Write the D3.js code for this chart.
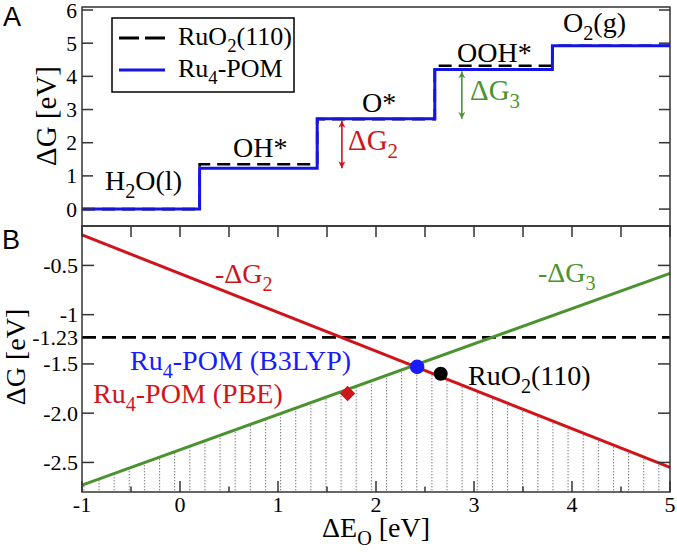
<!DOCTYPE html>
<html><head><meta charset="utf-8">
<script src="https://cdn.jsdelivr.net/npm/d3@7"></script>
<style>
html,body{margin:0;padding:0;background:#fff;}
svg{display:block;}
</style></head>
<body>
<script>
// ---------- DATA ----------
const stepX = [0, 1, 2, 3, 4, 5];
const ruo2Levels = [0, 1.35, 2.71, 4.32, 4.92];
const ru4Levels = [0, 1.23, 2.72, 4.21, 4.92];
const panelAYTicks = [0, 1, 2, 3, 4, 5, 6];

const deltaEo = [-1, 5];
const negDG2 = [-0.19, -2.55];
const negDG3 = [-2.73, -0.58];
const eqPotential = -1.23;
const panelBYTicks = [-0.5, -1, -1.23, -1.5, -2.0, -2.5];
const panelBYTickLabels = ["-0.5", "-1", "-1.23", "-1.5", "-2.0", "-2.5"];
const panelBYTickMarks = [-0.5, -1, -1.5, -2.0, -2.5];
const xTicks = [-1, 0, 1, 2, 3, 4, 5];
const xMinorTicks = [-0.5, 0.5, 1.5, 2.5, 3.5, 4.5];
const catalysts = ["Ru4-POM (B3LYP)", "RuO2(110)", "Ru4-POM (PBE)"];
const catalystX = [2.42, 2.66, 1.71];
const catalystY = [-1.53, -1.60, -1.80];

// ---------- STYLE ----------
const W = 677, H = 554;
const SERIF = "\"Liberation Serif\", \"Times New Roman\", serif";
const SANS = "\"Liberation Sans\", Arial, sans-serif";
const BLUE = "#1414e6", RED = "#d0141c", GREEN = "#4b9230", FRAME = "#333";

const svg = d3.select("body").append("svg").attr("width", W).attr("height", H)
  .style("font-family", SERIF);
const defs = svg.append("defs");

function rich(g, x, y, parts, opt) {
  const t = g.append("text").attr("x", x).attr("y", y)
    .attr("font-size", opt.size).attr("fill", opt.color || "#000")
    .attr("text-anchor", opt.anchor || "start")
    .style("font-family", SERIF);
  if (opt.rotate) t.attr("transform", `rotate(${opt.rotate},${x},${y})`);
  let shifted = 0;
  parts.forEach(p => {
    const isSub = Array.isArray(p);
    const s = isSub ? p[0] : p;
    const ts = t.append("tspan").text(s);
    const want = isSub ? opt.size * 0.28 : 0;
    if (want !== shifted) { ts.attr("dy", want - shifted); shifted = want; }
    if (isSub) ts.attr("font-size", opt.size * 0.72);
  });
  return t;
}
function plain(g, x, y, s, size, anchor) {
  return g.append("text").attr("x", x).attr("y", y).attr("text-anchor", anchor)
    .attr("font-size", size).style("font-family", SERIF).text(s);
}

// ---------- PANEL A ----------
const xA = d3.scaleLinear().domain([0, 5]).range([82, 670]);
const yA = d3.scaleLinear().domain([-0.51, 6.09]).range([226, 7]);
const gA = svg.append("g");

const stepLine = levels => d3.line().x((d, i) => xA(stepX[i])).y(d => yA(d)).curve(d3.curveStepAfter)(levels.concat([levels[levels.length - 1]]));

gA.append("path").attr("d", stepLine(ruo2Levels)).attr("fill", "none")
  .attr("stroke", "#000").attr("stroke-width", 2.6).attr("stroke-dasharray", "13,7");
gA.append("path").attr("d", stepLine(ru4Levels)).attr("fill", "none")
  .attr("stroke", BLUE).attr("stroke-width", 3);

// frame A
gA.append("rect").attr("x", 82).attr("y", 7).attr("width", 588).attr("height", 219)
  .attr("fill", "none").attr("stroke", FRAME).attr("stroke-width", 1.5);
panelAYTicks.forEach(v => {
  gA.append("line").attr("x1", 82).attr("x2", 93).attr("y1", yA(v)).attr("y2", yA(v)).attr("stroke", FRAME).attr("stroke-width", 1.5);
  gA.append("line").attr("x1", 670).attr("x2", 659).attr("y1", yA(v)).attr("y2", yA(v)).attr("stroke", FRAME).attr("stroke-width", 1.5);
  plain(gA, 77, yA(v) + 7.5, v, 21.5, "end");
});

// arrows
function arrowMarker(id, color) {
  defs.append("marker").attr("id", id).attr("viewBox", "0 0 10 10").attr("refX", 10).attr("refY", 5)
    .attr("markerWidth", 7).attr("markerHeight", 7).attr("markerUnits", "userSpaceOnUse")
    .attr("orient", "auto-start-reverse")
    .append("path").attr("d", "M0,0 L10,5 L0,10 L3,5 Z").attr("fill", color);
}
arrowMarker("arRed", RED); arrowMarker("arGreen", GREEN);
gA.append("line").attr("x1", xA(2.21)).attr("x2", xA(2.21)).attr("y1", yA(ru4Levels[2]) + 2).attr("y2", yA(ru4Levels[1]))
  .attr("stroke", RED).attr("stroke-width", 1.6).attr("marker-start", "url(#arRed)").attr("marker-end", "url(#arRed)");
gA.append("line").attr("x1", xA(3.23)).attr("x2", xA(3.23)).attr("y1", yA(ru4Levels[3]) + 2).attr("y2", yA(ru4Levels[2]))
  .attr("stroke", GREEN).attr("stroke-width", 1.6).attr("marker-start", "url(#arGreen)").attr("marker-end", "url(#arGreen)");

rich(gA, 348, 150, ["ΔG", ["2"]], {size: 29, color: RED});
rich(gA, 470, 100, ["ΔG", ["3"]], {size: 29, color: GREEN});

rich(gA, 105, 190, ["H", ["2"], "O(l)"], {size: 28});
rich(gA, 233, 157, ["OH*"], {size: 28});
rich(gA, 362, 112, ["O*"], {size: 28});
rich(gA, 457, 62, ["OOH*"], {size: 28});
rich(gA, 563, 32, ["O", ["2"], "(g)"], {size: 28});

// legend
gA.append("rect").attr("x", 112).attr("y", 18).attr("width", 182).attr("height", 74)
  .attr("fill", "#fff").attr("stroke", "#000").attr("stroke-width", 1.5);
gA.append("line").attr("x1", 119).attr("x2", 165).attr("y1", 38).attr("y2", 38)
  .attr("stroke", "#000").attr("stroke-width", 2.8).attr("stroke-dasharray", "20,6");
gA.append("line").attr("x1", 119).attr("x2", 165).attr("y1", 70).attr("y2", 70)
  .attr("stroke", BLUE).attr("stroke-width", 3);
rich(gA, 178, 45, ["RuO", ["2"], "(110)"], {size: 26});
rich(gA, 178, 77, ["Ru", ["4"], "-POM"], {size: 26});

rich(gA, 56, 116, ["ΔG [eV]"], {size: 29, anchor: "middle", rotate: -90});
svg.append("text").attr("x", 3).attr("y", 26).attr("font-size", 27)
  .style("font-family", SANS).text("A");

// ---------- PANEL B ----------
const xB = d3.scaleLinear().domain([-1, 5]).range([82, 670]);
const yB = d3.scaleLinear().domain([-2.8, -0.1]).range([492, 226]);
const gB = svg.append("g");

// hatch pattern and clips
const pat = defs.append("pattern").attr("id", "hatch").attr("patternUnits", "userSpaceOnUse")
  .attr("x", 98.5).attr("y", 0).attr("width", 15.13).attr("height", 3);
pat.append("rect").attr("x", 0).attr("y", 0).attr("width", 1.1).attr("height", 1.4).attr("fill", "#808080");

const bottom = yB.domain()[0];
function clipBelow(id, vals) {
  defs.append("clipPath").attr("id", id).append("polygon")
    .attr("points", [[xB(deltaEo[0]), yB(vals[0])], [xB(deltaEo[1]), yB(vals[1])],
      [xB(deltaEo[1]), yB(bottom)], [xB(deltaEo[0]), yB(bottom)]].map(p => p.join(",")).join(" "));
}
clipBelow("belowRed", negDG2); clipBelow("belowGreen", negDG3);
gB.append("g").attr("clip-path", "url(#belowGreen)")
  .append("rect").attr("clip-path", "url(#belowRed)")
  .attr("x", xB(-1)).attr("y", yB(-0.1)).attr("width", xB(5) - xB(-1)).attr("height", yB(bottom) - yB(-0.1))
  .attr("fill", "url(#hatch)");

// dashed -1.23
gB.append("line").attr("x1", xB(-1)).attr("x2", xB(5)).attr("y1", yB(eqPotential)).attr("y2", yB(eqPotential))
  .attr("stroke", "#000").attr("stroke-width", 2.8).attr("stroke-dasharray", "14,6");

const lineB = d3.line().x((d, i) => xB(deltaEo[i])).y(d => yB(d));
gB.append("path").attr("d", lineB(negDG2)).attr("fill", "none").attr("stroke", RED).attr("stroke-width", 3);
gB.append("path").attr("d", lineB(negDG3)).attr("fill", "none").attr("stroke", GREEN).attr("stroke-width", 3);

// markers
gB.append("circle").attr("cx", xB(catalystX[0])).attr("cy", yB(catalystY[0])).attr("r", 7.3).attr("fill", "#1a1aff");
gB.append("circle").attr("cx", xB(catalystX[1])).attr("cy", yB(catalystY[1])).attr("r", 7).attr("fill", "#000");
gB.append("path").attr("d", d3.symbol(d3.symbolDiamond2, 150)())
  .attr("transform", `translate(${xB(catalystX[2])},${yB(catalystY[2])})`).attr("fill", RED);

// frame B
gB.append("rect").attr("x", 82).attr("y", 226).attr("width", 588).attr("height", 266)
  .attr("fill", "none").attr("stroke", FRAME).attr("stroke-width", 1.5);
xTicks.concat(xMinorTicks).forEach(v => {
  const major = Number.isInteger(v);
  gB.append("line").attr("x1", xB(v)).attr("x2", xB(v)).attr("y1", 492).attr("y2", 492 - (major ? 11 : 5.5))
    .attr("stroke", FRAME).attr("stroke-width", 1.5);
  gB.append("line").attr("x1", xB(v)).attr("x2", xB(v)).attr("y1", 226).attr("y2", 237)
    .attr("stroke", FRAME).attr("stroke-width", 1.5);
});
xTicks.forEach(v => plain(gB, xB(v), 512, v, 22, "middle"));
panelBYTickMarks.forEach(v => {
  gB.append("line").attr("x1", 82).attr("x2", 94).attr("y1", yB(v)).attr("y2", yB(v)).attr("stroke", FRAME).attr("stroke-width", 1.5);
  gB.append("line").attr("x1", 670).attr("x2", 658).attr("y1", yB(v)).attr("y2", yB(v)).attr("stroke", FRAME).attr("stroke-width", 1.5);
});
panelBYTicks.forEach((v, i) => plain(gB, 78, yB(v) + 7.5, panelBYTickLabels[i], 22, "end"));

rich(gB, 215, 283, ["-ΔG", ["2"]], {size: 28, color: RED});
rich(gB, 538, 282, ["-ΔG", ["3"]], {size: 28, color: GREEN});
rich(gB, 130, 370, ["Ru", ["4"], "-POM (B3LYP)"], {size: 28, color: "#1a1aff"});
rich(gB, 93, 403, ["Ru", ["4"], "-POM (PBE)"], {size: 28, color: RED});
rich(gB, 468, 385, ["RuO", ["2"], "(110)"], {size: 28, color: "#000"});

rich(gB, 376, 537, ["ΔE", ["O"], " [eV]"], {size: 28, anchor: "middle"});
rich(gB, 25, 357, ["ΔG [eV]"], {size: 28, anchor: "middle", rotate: -90});
svg.append("text").attr("x", 2).attr("y", 249).attr("font-size", 27)
  .style("font-family", SANS).text("B");
</script>
</body></html>
